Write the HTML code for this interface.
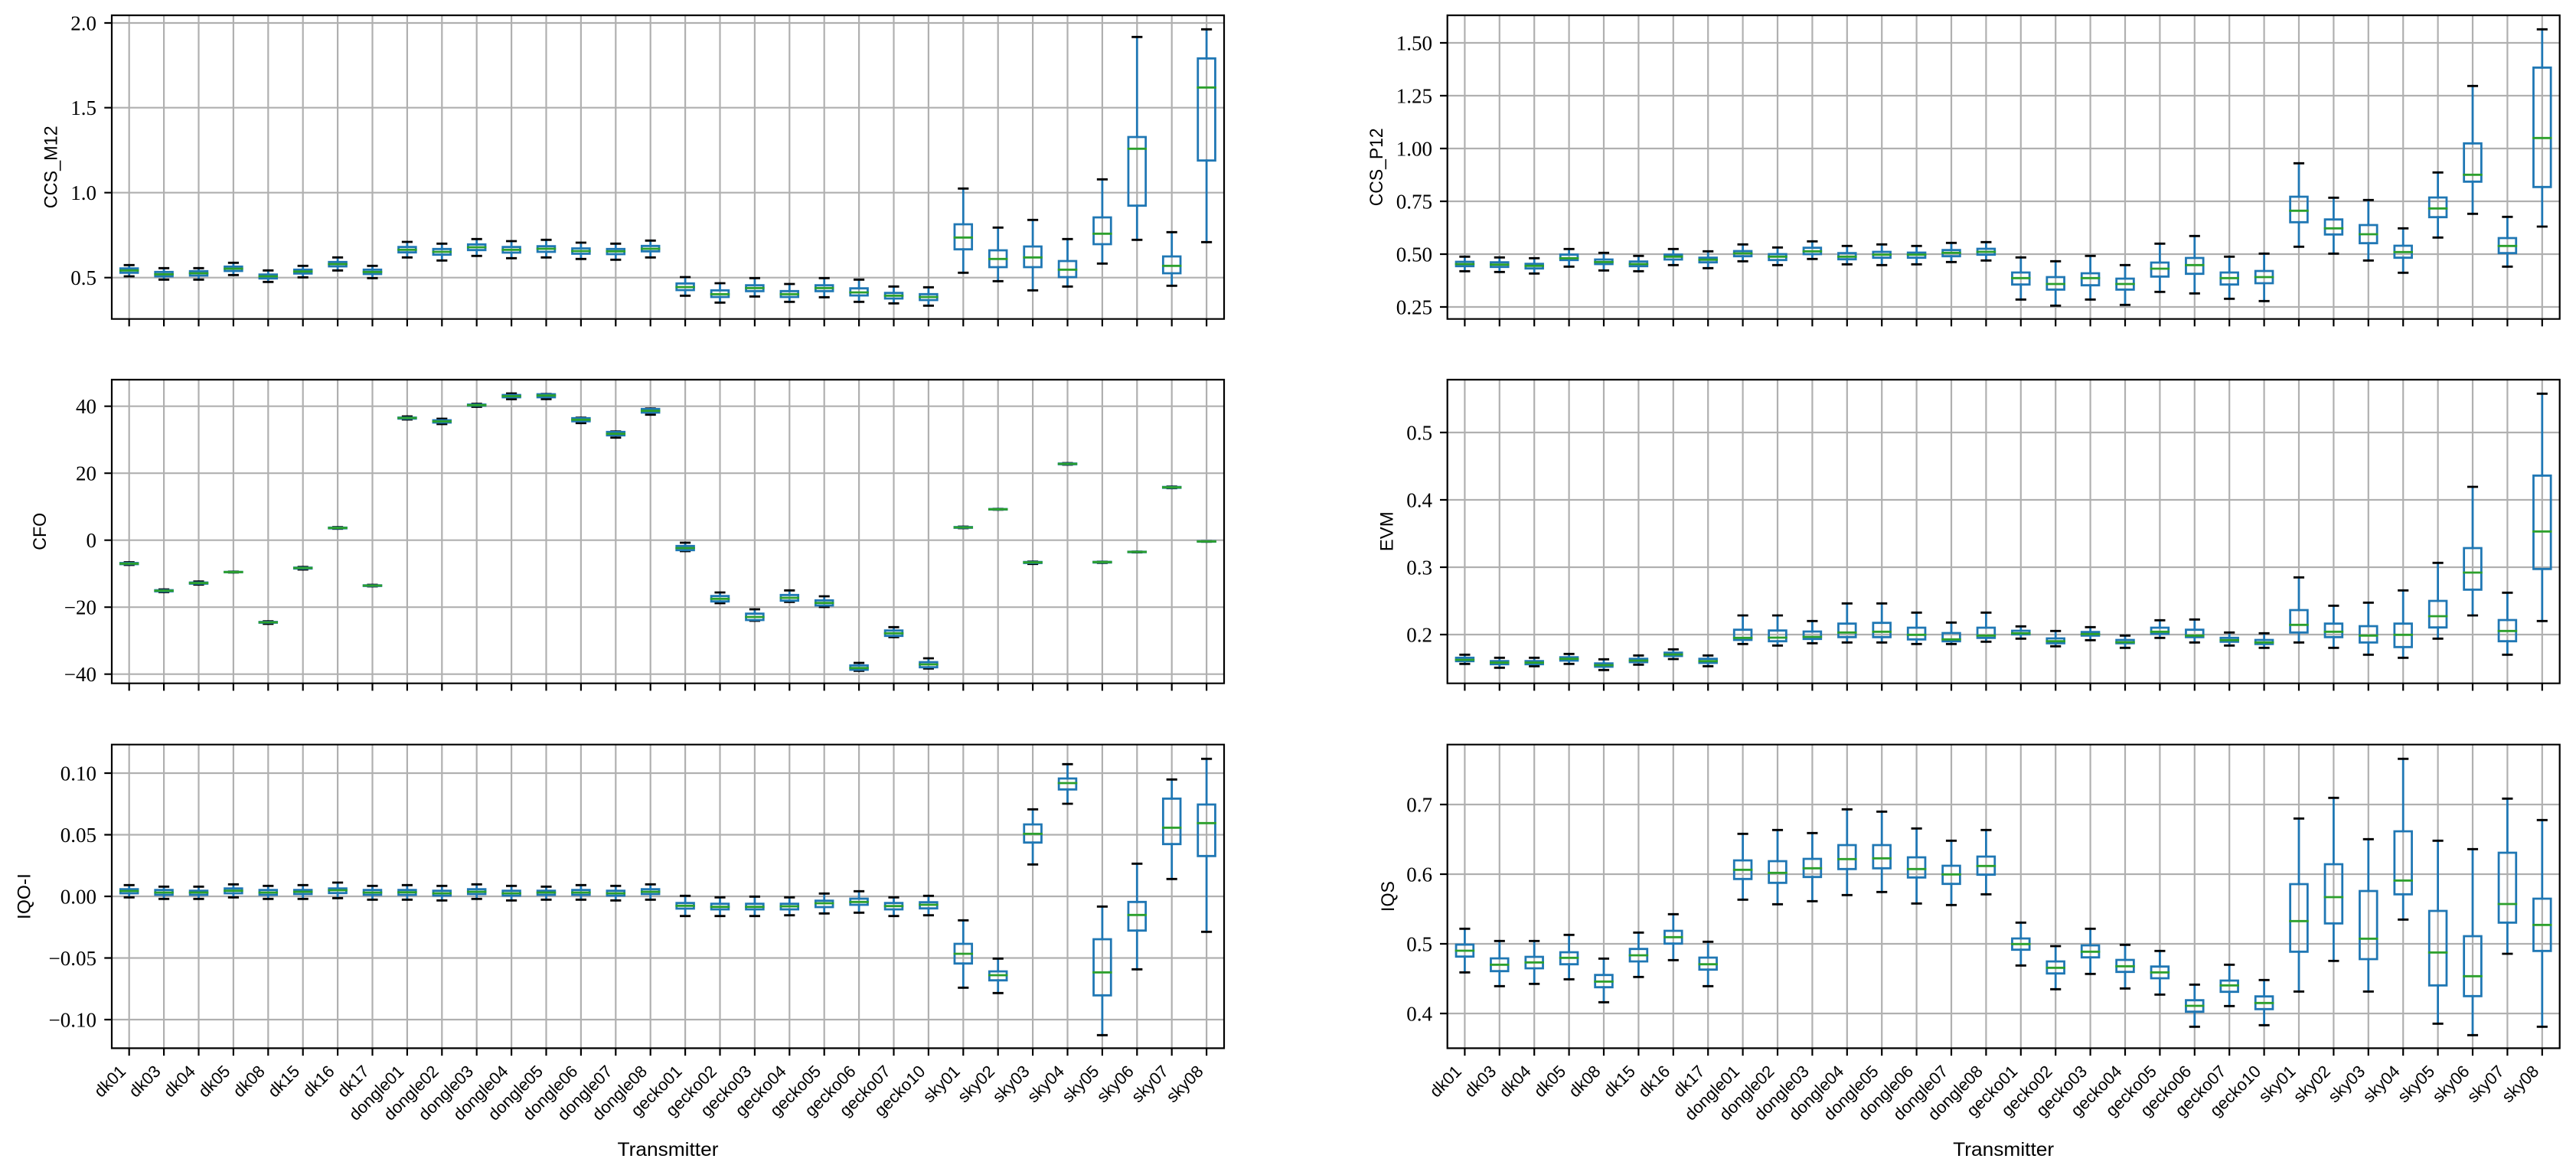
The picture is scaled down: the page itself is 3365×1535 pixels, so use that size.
<!DOCTYPE html>
<html><head><meta charset="utf-8"><style>
html,body{margin:0;padding:0;background:#fff;}
svg{display:block;}
</style></head><body>
<svg id="c" xmlns="http://www.w3.org/2000/svg" width="3365" height="1535" viewBox="0 0 3365 1535">
<rect x="0" y="0" width="3365" height="1535" fill="#fff"/>
<g id="plots"></g>
<g font-family="'Liberation Serif', serif" font-size="27" text-anchor="end" fill="#000">
<text x="126" y="39.5">2.0</text><text x="126" y="150.2">1.5</text><text x="126" y="261.2">1.0</text><text x="126" y="372.2">0.5</text>
<text x="1871" y="65.5">1.50</text><text x="1871" y="134.5">1.25</text><text x="1871" y="203.5">1.00</text><text x="1871" y="272.5">0.75</text><text x="1871" y="341.5">0.50</text><text x="1871" y="410.5">0.25</text>
<text x="126" y="540.2">40</text><text x="126" y="627.7">20</text><text x="126" y="715.2">0</text><text x="126" y="802.7">−20</text><text x="126" y="890.2">−40</text>
<text x="1871" y="574.5">0.5</text><text x="1871" y="662.5">0.4</text><text x="1871" y="750.5">0.3</text><text x="1871" y="838.5">0.2</text>
<text x="126" y="1019.5">0.10</text><text x="126" y="1100">0.05</text><text x="126" y="1180.5">0.00</text><text x="126" y="1261">−0.05</text><text x="126" y="1341.5">−0.10</text>
<text x="1871" y="1060.5">0.7</text><text x="1871" y="1151.5">0.6</text><text x="1871" y="1242.5">0.5</text><text x="1871" y="1333.5">0.4</text>
</g>
<g font-family="'Liberation Sans', sans-serif" font-size="24" text-anchor="middle" fill="#000">
<text transform="translate(74.5 218.3) rotate(-90)" textLength="108" lengthAdjust="spacingAndGlyphs">CCS_M12</text>
<text transform="translate(1806 218.3) rotate(-90)" textLength="102" lengthAdjust="spacingAndGlyphs">CCS_P12</text>
<text transform="translate(60.2 694.3) rotate(-90)" textLength="49" lengthAdjust="spacingAndGlyphs">CFO</text>
<text transform="translate(1819.5 694.3) rotate(-90)">EVM</text>
<text transform="translate(39.5 1171) rotate(-90)" textLength="60" lengthAdjust="spacingAndGlyphs">IQO-I</text>
<text transform="translate(1821 1171) rotate(-90)" textLength="40" lengthAdjust="spacingAndGlyphs">IQS</text>
<text x="872.5" y="1510" font-size="25" textLength="132" lengthAdjust="spacingAndGlyphs">Transmitter</text>
<text x="2617.2" y="1510" font-size="25" textLength="132" lengthAdjust="spacingAndGlyphs">Transmitter</text>
</g>
<g font-family="'Liberation Sans', sans-serif" font-size="22" text-anchor="end" fill="#000">
<text transform="translate(165.7 1401) rotate(-45)">dk01</text>
<text transform="translate(211.1 1401) rotate(-45)">dk03</text>
<text transform="translate(256.5 1401) rotate(-45)">dk04</text>
<text transform="translate(301.9 1401) rotate(-45)">dk05</text>
<text transform="translate(347.3 1401) rotate(-45)">dk08</text>
<text transform="translate(392.7 1401) rotate(-45)">dk15</text>
<text transform="translate(438.1 1401) rotate(-45)">dk16</text>
<text transform="translate(483.5 1401) rotate(-45)">dk17</text>
<text transform="translate(528.9 1401) rotate(-45)">dongle01</text>
<text transform="translate(574.3 1401) rotate(-45)">dongle02</text>
<text transform="translate(619.7 1401) rotate(-45)">dongle03</text>
<text transform="translate(665.1 1401) rotate(-45)">dongle04</text>
<text transform="translate(710.5 1401) rotate(-45)">dongle05</text>
<text transform="translate(755.9 1401) rotate(-45)">dongle06</text>
<text transform="translate(801.3 1401) rotate(-45)">dongle07</text>
<text transform="translate(846.7 1401) rotate(-45)">dongle08</text>
<text transform="translate(892.1 1401) rotate(-45)">gecko01</text>
<text transform="translate(937.5 1401) rotate(-45)">gecko02</text>
<text transform="translate(982.9 1401) rotate(-45)">gecko03</text>
<text transform="translate(1028.3 1401) rotate(-45)">gecko04</text>
<text transform="translate(1073.7 1401) rotate(-45)">gecko05</text>
<text transform="translate(1119.1 1401) rotate(-45)">gecko06</text>
<text transform="translate(1164.5 1401) rotate(-45)">gecko07</text>
<text transform="translate(1209.9 1401) rotate(-45)">gecko10</text>
<text transform="translate(1255.3 1401) rotate(-45)">sky01</text>
<text transform="translate(1300.7 1401) rotate(-45)">sky02</text>
<text transform="translate(1346.1 1401) rotate(-45)">sky03</text>
<text transform="translate(1391.5 1401) rotate(-45)">sky04</text>
<text transform="translate(1436.9 1401) rotate(-45)">sky05</text>
<text transform="translate(1482.3 1401) rotate(-45)">sky06</text>
<text transform="translate(1527.7 1401) rotate(-45)">sky07</text>
<text transform="translate(1573.1 1401) rotate(-45)">sky08</text>
<text transform="translate(1910.4 1401) rotate(-45)">dk01</text>
<text transform="translate(1955.8 1401) rotate(-45)">dk03</text>
<text transform="translate(2001.2 1401) rotate(-45)">dk04</text>
<text transform="translate(2046.6 1401) rotate(-45)">dk05</text>
<text transform="translate(2092.0 1401) rotate(-45)">dk08</text>
<text transform="translate(2137.4 1401) rotate(-45)">dk15</text>
<text transform="translate(2182.8 1401) rotate(-45)">dk16</text>
<text transform="translate(2228.2 1401) rotate(-45)">dk17</text>
<text transform="translate(2273.6 1401) rotate(-45)">dongle01</text>
<text transform="translate(2319.0 1401) rotate(-45)">dongle02</text>
<text transform="translate(2364.4 1401) rotate(-45)">dongle03</text>
<text transform="translate(2409.8 1401) rotate(-45)">dongle04</text>
<text transform="translate(2455.2 1401) rotate(-45)">dongle05</text>
<text transform="translate(2500.6 1401) rotate(-45)">dongle06</text>
<text transform="translate(2546.0 1401) rotate(-45)">dongle07</text>
<text transform="translate(2591.4 1401) rotate(-45)">dongle08</text>
<text transform="translate(2636.8 1401) rotate(-45)">gecko01</text>
<text transform="translate(2682.2 1401) rotate(-45)">gecko02</text>
<text transform="translate(2727.6 1401) rotate(-45)">gecko03</text>
<text transform="translate(2773.0 1401) rotate(-45)">gecko04</text>
<text transform="translate(2818.4 1401) rotate(-45)">gecko05</text>
<text transform="translate(2863.8 1401) rotate(-45)">gecko06</text>
<text transform="translate(2909.2 1401) rotate(-45)">gecko07</text>
<text transform="translate(2954.6 1401) rotate(-45)">gecko10</text>
<text transform="translate(3000.0 1401) rotate(-45)">sky01</text>
<text transform="translate(3045.4 1401) rotate(-45)">sky02</text>
<text transform="translate(3090.8 1401) rotate(-45)">sky03</text>
<text transform="translate(3136.2 1401) rotate(-45)">sky04</text>
<text transform="translate(3181.6 1401) rotate(-45)">sky05</text>
<text transform="translate(3227.0 1401) rotate(-45)">sky06</text>
<text transform="translate(3272.4 1401) rotate(-45)">sky07</text>
<text transform="translate(3317.8 1401) rotate(-45)">sky08</text>
</g>
</svg>
<script>
(function(){
var NS='http://www.w3.org/2000/svg';
var root=document.getElementById('plots');
function P(d,stroke,w,cap){var p=document.createElementNS(NS,'path');p.setAttribute('d',d);p.setAttribute('stroke',stroke);p.setAttribute('stroke-width',w);p.setAttribute('fill','none');p.setAttribute('stroke-linecap',cap);root.appendChild(p);}
var W=45.4,H=396.7,AW=1453;
function f(n){return (Math.round(n*100)/100).toString();}
function panel(x0,y0,yt,D){
 var g='',b='',k='',m='',t='',wh='';
 var yb=y0+H;
 for(var j=0;j<yt.length;j++){g+='M'+f(x0)+' '+yt[j]+'H'+f(x0+AW);t+='M'+f(x0-9.7)+' '+yt[j]+'H'+f(x0);}
 for(var i=0;i<32;i++){
  var c=x0+W*(i+0.5);
  g+='M'+f(c)+' '+f(y0)+'V'+f(yb);
  t+='M'+f(c)+' '+f(yb)+'V'+f(yb+9.7);
  var d=D[i];var L=c-W/4,R=c+W/4,cl=c-W/8,cr=c+W/8;
  wh+='M'+f(c)+' '+d[3]+'V'+d[4]+'M'+f(c)+' '+d[1]+'V'+d[0];
  k+='M'+f(cl)+' '+d[4]+'H'+f(cr)+'M'+f(cl)+' '+d[0]+'H'+f(cr);
  b+='M'+f(L)+' '+d[3]+'H'+f(R)+'V'+d[1]+'H'+f(L)+'Z';
  m+='M'+f(L)+' '+d[2]+'H'+f(R);
 }
 P(g,'#b0b0b0',2.2,'butt');
 P(wh,'#1f77b4',2.78,'square');
 P(k,'#000000',2.78,'square');
 P(b,'#1f77b4',2.78,'square');
 P(m,'#2ca02c',2.78,'square');
 P('M'+f(x0)+' '+f(y0)+'H'+f(x0+AW)+'V'+f(yb)+'H'+f(x0)+'Z','#000000',2.2,'square');
 P(t,'#000000',2.2,'butt');
}
var A=[[346.3,350.7,353.3,356.3,361],[350.3,355.3,358.3,361,365.3],[350.3,354.3,357,360,365.3],[343.3,348.3,351,354,359.3],[353.3,358.7,361,363.7,368.3],[347.3,352.3,354.7,357.3,362.3],[336.3,342.3,345,348,353.3],[347.3,352.3,355.3,358,363.3],[316,322.7,326.3,329.7,336.3],[318.3,325.3,329,332.7,340.3],[312.3,319.3,323,326.7,334.3],[315,322.7,326.3,330,337.3],[313.3,321.7,325,329,336.3],[317,324.5,328,331.5,338.3],[318.3,325.3,328.3,332,339.3],[314.3,321.3,325,328.3,336.3],[362,370.3,375,379,386.3],[370,379.3,384.3,388,395.3],[363.3,372.7,376.3,380.3,387.3],[371,380.3,384.3,388,394.3],[363.3,372.7,376.3,380.3,388.3],[365.3,376.7,382,386,394.3],[374.3,382.7,386.3,390,396.3],[375.3,384.3,388,392,399.3],[246.3,293,310.3,325.7,356.3],[297.3,327,338.3,349,367.3],[287.3,322,336.3,349,379.3],[312.3,341,352.3,362,374.3],[234.3,284,305.3,319,344.3],[48.3,179,194.3,268.7,313.3],[303.3,335,347.3,357,373.3],[38.3,76.3,114.3,209.7,316.3]];
var B=[[335.3,342,345,347.7,354.3],[336.3,342.7,345.7,348.7,355.3],[337.3,344.7,347.3,350.7,357.3],[325.3,332.7,337.3,339.7,348.3],[330.3,339,342.3,345,353.3],[334.3,341.7,345,347.7,354.3],[325.3,332.7,335.3,339,346.3],[328.3,336.7,339.3,342.7,350.3],[319.3,328,331,334.7,341.3],[323.3,332,335.3,339.7,346.3],[315.3,323.7,328.3,332,338.3],[321.3,330.7,335.3,338.7,345.3],[319.3,329,332.7,336.7,346.3],[321.3,330,332.7,336.7,345.3],[317.3,326.7,330.3,334.7,342.3],[316.3,325,329,332.7,340.3],[336.3,356,363.3,371.7,391.3],[341.3,362,371,378.3,399.3],[334.3,357,363.3,372.7,391.3],[346.3,364,371,378.3,398.3],[318.3,343,351,361.3,381.3],[308.3,337,346.3,357.7,383.3],[335.3,356,363.3,371.7,390.3],[331.3,354,362,370,393.3],[213.3,257,275.3,290.3,322.3],[258.3,286.7,298.3,306.3,331.3],[261.3,294,306,317.7,340.3],[298.3,321,329.3,336.7,356.3],[225.3,258,272.3,283.7,310.3],[112.3,187.3,228.3,237.3,279.3],[283.3,311,321.3,330.7,348.3],[38.3,88.3,180.3,244.3,296]];
var C=[[734.5,735.5,736.3,737,738],[770,771,771.7,772.5,773.5],[759.7,761,761.7,762.5,763.7],[746.8,747.2,747.3,747.5,747.8],[811.7,812.5,813,813.5,815],[740.7,741.5,742,742.7,744],[688.7,689.3,689.7,690.2,690.7],[764,764.6,765,765.5,766],[544,545.5,546,546.8,548],[547,549,550.5,552,554],[527.5,528.5,529.3,530,531.5],[514,516,517.5,519,521.5],[514.7,515,516.7,519,521.3],[545.7,546.3,548.3,550.3,552.7],[563.7,564.3,566.7,568.7,571.7],[533.7,534.3,536.7,539,541.7],[709,713.3,716,718.7,720],[774,778.7,782.3,785.7,788],[796,801.7,806,810,811],[771.3,777.3,781,784.7,786.3],[779,784.3,787.7,791,793],[866,869.3,872.7,875,876.3],[819.3,823.7,827.3,830.7,832.3],[860,865,868,871.7,873.3],[688,688.5,689,689.5,690],[664.8,665,665.3,665.6,665.8],[733.7,734.2,734.7,735.5,736.7],[605,605.5,606,606.5,607],[733.8,734,734.3,734.8,735.3],[720.6,720.8,721,721.3,721.6],[635.7,636.2,636.7,637.2,637.7],[707,707.1,707.3,707.5,707.7]];
var D=[[855.3,859.3,862,863.7,867.3],[859.3,863.7,865.7,867.7,872.3],[859.3,863.7,865.7,867.7,870.3],[854.3,858.7,860.7,863,867.3],[861.3,866.7,869,871,875.3],[856.3,860.7,863,865,868.3],[848.3,852.7,855,857,861],[856.3,860.7,863.7,866,870.3],[804,822.7,833.3,836,841.3],[804,823.7,833,837.7,843.3],[811.3,825,832,834.7,840.3],[788.3,814.7,826.3,832.3,839.3],[788.3,813.7,825.3,832.3,839.3],[800.3,820,829.3,835.3,841.3],[813.3,827,835.3,837.7,841.3],[800.3,820,830.3,833.3,838.3],[818.3,824,827.3,828.7,834.3],[824.3,834,837.7,840.3,844.3],[819.3,825.7,828.3,830.3,836.3],[830.3,836,839,840.3,846.3],[810.3,820,825.3,828,833.3],[809.3,822.7,830.3,832.3,839.3],[826.3,833.3,836.3,838.3,843.3],[827.3,836,839.3,841.3,846.3],[754.3,797,816.3,826.3,839.3],[791.3,814.7,825.3,832.3,846.3],[787.3,818,830.3,839.3,855.3],[771.3,814.7,829.3,845.3,859.3],[735.3,785,805,819.7,834.3],[636,716,748,770.3,804],[774.3,810,824.3,837.7,855.3],[514.3,621.3,694.3,743.3,811.3]];
var E=[[1156.3,1161.7,1164,1167,1172.3],[1158.3,1162.7,1166,1169,1174.3],[1158.3,1163.7,1166,1169,1174.3],[1155.3,1160.7,1163.7,1167,1172.3],[1157.3,1162.7,1166,1169,1174.3],[1156.3,1162.7,1165,1168,1174.3],[1153,1160.7,1163,1166.7,1173.3],[1157.3,1162.7,1166,1169,1175.3],[1156.3,1162.7,1165.7,1169,1175.3],[1157.3,1163.7,1167,1170,1176.3],[1155.3,1161.7,1165,1168,1174.3],[1157.3,1163.7,1167,1170,1176.3],[1158.3,1163.7,1166,1169,1175.3],[1156.3,1162.7,1166,1169,1175.3],[1157.3,1163.7,1167,1170,1176.3],[1155.3,1161.7,1165,1168,1175.3],[1170.3,1179.7,1183.3,1187,1196.7],[1172.3,1180.7,1184.7,1188,1196.7],[1171.3,1180.7,1184.7,1188,1196.7],[1172.3,1180.7,1184,1188,1195.7],[1167.3,1176.7,1180,1185,1193.3],[1164.3,1174,1178.3,1182,1192.3],[1172.3,1179.7,1183.7,1188,1196.7],[1170.3,1178.7,1182,1186.7,1195.7],[1202.3,1233,1246,1258.7,1290.3],[1252.3,1269,1274,1280.7,1297.3],[1057.3,1077,1089.3,1100.7,1129.3],[998.3,1017,1023,1031.3,1050],[1184.3,1227,1270.3,1300.3,1352.3],[1128.3,1178.3,1195.3,1215.7,1266.3],[1018.3,1043.3,1081.3,1102.7,1148.3],[991.3,1051,1075.3,1118.3,1217.3]];
var F=[[1213.3,1234,1242,1249.7,1270.3],[1229.3,1252,1260.3,1268.7,1288.3],[1229.3,1250,1257.3,1265,1285.3],[1221.3,1244,1251.3,1259.7,1279.3],[1252.3,1273.7,1282.3,1289.7,1309.3],[1218.3,1239.7,1248,1256,1276.3],[1194.3,1216,1224.3,1232.7,1254.3],[1230.3,1251,1259.7,1266.7,1288.3],[1089.3,1124,1136.3,1148.3,1175.3],[1084.3,1125,1140.3,1153.3,1181.3],[1088.3,1122,1134.3,1145.7,1177.3],[1057.3,1104,1122.3,1135.3,1169.3],[1060.3,1104,1121.3,1134.3,1165.3],[1082.3,1120,1135.3,1146.3,1180.3],[1098.3,1131,1142.3,1154.7,1182.3],[1084.3,1119,1131.3,1142.7,1168.3],[1205.3,1226,1233.3,1240.7,1261.3],[1236,1256,1264.3,1271.7,1292.3],[1213.3,1235,1243.3,1250.7,1272.3],[1234.3,1254,1262.3,1269.7,1291.3],[1242.3,1262.7,1270.3,1278,1299.3],[1286.3,1306.7,1314,1321.7,1341.3],[1260.3,1281,1287.3,1295.7,1314.3],[1280.3,1301.7,1310.3,1318.3,1339.3],[1069.3,1155,1203.3,1243.3,1295.3],[1042.3,1129,1172,1206.3,1255.3],[1096.3,1164,1226.3,1253,1295.3],[991.3,1086,1150.3,1168.3,1201.3],[1098.3,1190,1244.3,1287.3,1337.3],[1109.3,1223,1275.3,1301.3,1352.3],[1043.3,1114,1181,1205.3,1246],[1071.3,1174,1208.3,1242.3,1341.3]];
panel(146,20,[30,140.7,251.7,362.7],A);
panel(1890.7,20,[56,125,194,263,332,401],B);
panel(146,496,[530.7,618.2,705.7,793.2,880.7],C);
panel(1890.7,496,[565,653,741,829],D);
panel(146,972.7,[1010,1090.5,1171,1251.5,1332],E);
panel(1890.7,972.7,[1051,1142,1233,1324],F);
})();
</script>
</body></html>
